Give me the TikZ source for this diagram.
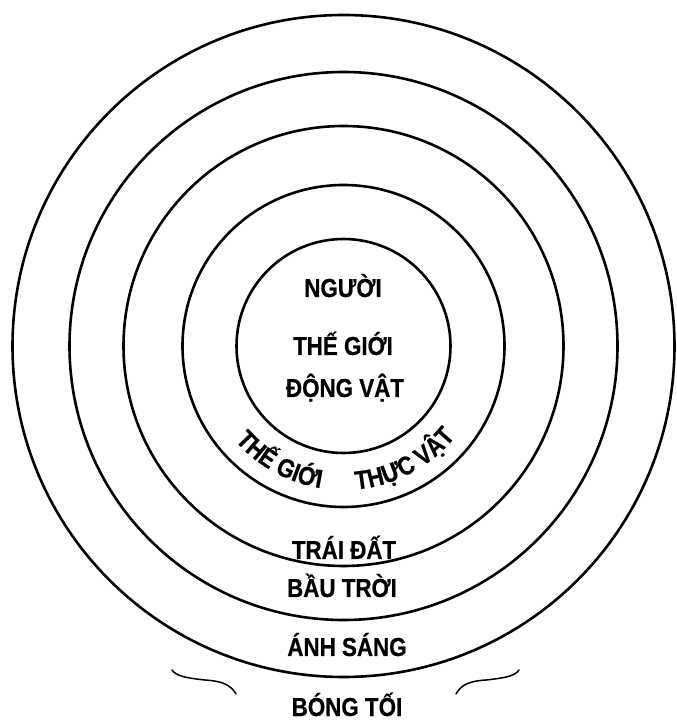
\documentclass[tikz,border=0pt]{standalone}
\usepackage{fontspec}
\newfontfamily\cvfont{Liberation Sans}[FakeStretch=0.86, FakeBold=0.6]
\usetikzlibrary{decorations.text}
\newcommand{\lblfont}{\cvfont\bfseries\fontsize{26}{28}\selectfont}
\begin{document}
\begin{tikzpicture}[x=1pt,y=1pt,
  ring/.style={line width=2.6pt},
  lbl/.style={font=\lblfont, anchor=base, inner sep=0pt},
  bracepart/.style={line width=1.5pt, line cap=round}]
\useasboundingbox (0,0) rectangle (677,721);
\coordinate (c) at (343.5,375);
% rings
\draw[ring] (c) circle (331);
\draw[ring] (c) circle (274);
\draw[ring] (c) circle (220);
\draw[ring] (c) circle (161);
\draw[ring] (c) circle (107);
% labels
\node[lbl] (nguoi) at (343,424) {NGƯỜI};
\node[lbl] (tgdv1) at (343,366) {THẾ GIỚI};
\node[lbl] (tgdv2) at (345,324) {ĐỘNG VẬT};
\node[lbl] (traidat) at (344,162) {TRÁI ĐẤT};
\node[lbl] (bautroi) at (342,124) {BẦU TRỜI};
\node[lbl] (anhsang) at (347,65) {ÁNH SÁNG};
\node[lbl] (bongtoi) at (347,5) {BÓNG TỐI};
% curved labels
\path[decorate, decoration={text along path, text align=center,
  text={|\lblfont|THẾ GIỚI}}]
  ([shift={(213:144)}]c) arc[start angle=213, end angle=269, radius=144];
\path[decorate, decoration={text along path, text align=center,
  text={|\lblfont|THỰC VẬT}}]
  ([shift={(269:144)}]c) arc[start angle=269, end angle=327, radius=144];
% brace ends around the dark outside
\coordinate (la) at (172,51);
\coordinate (lb) at (205,41);
\coordinate (lc) at (236,27);
\coordinate (ra) at (519,51);
\coordinate (rb) at (486,41);
\coordinate (rc) at (456,27);
\draw[bracepart] (la) .. controls (176,45) and (186,43) .. (lb)
  .. controls (222,40) and (231,36) .. (lc);
\draw[bracepart] (ra) .. controls (515,45) and (505,43) .. (rb)
  .. controls (469,40) and (461,36) .. (rc);
\end{tikzpicture}
\end{document}
